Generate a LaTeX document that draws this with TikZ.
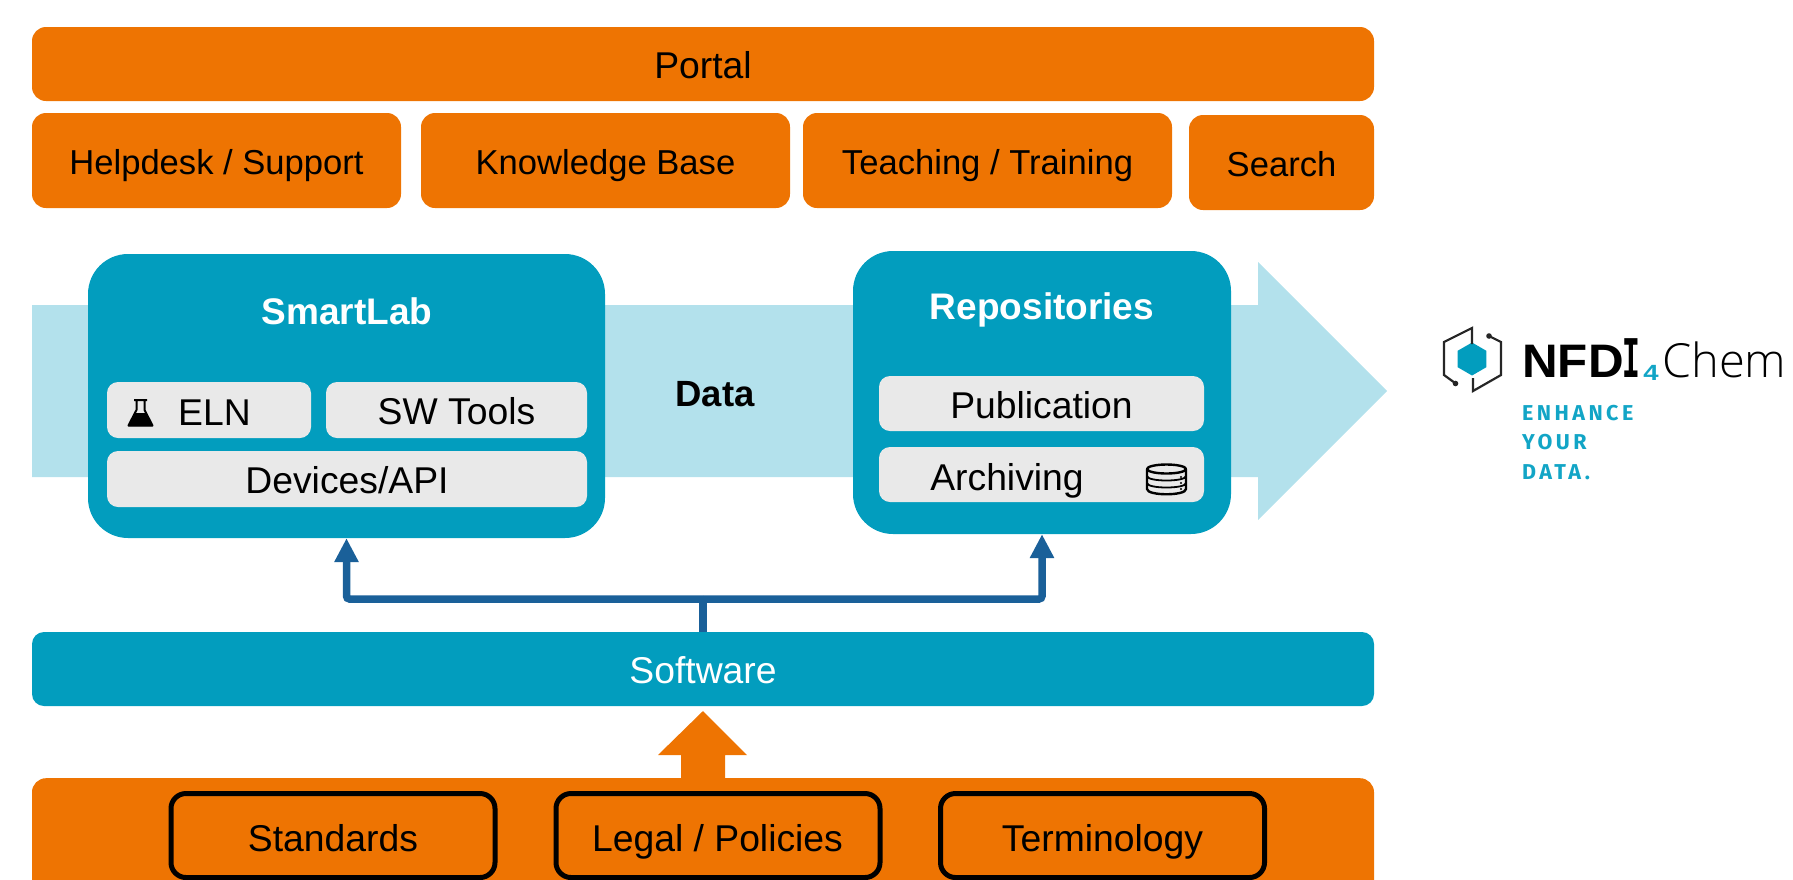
\documentclass[tikz,border=0pt]{standalone}
\usepackage{fontspec}
\setmainfont{Liberation Sans}
\newfontfamily\platemono{Liberation Mono}[BoldFont={* Bold}]
\newfontfamily\chemfont{Open Sans Light}
\newfontfamily\tagfont{Fira Sans}[LetterSpace=16.0]
\usetikzlibrary{arrows.meta,shapes.geometric}
\definecolor{nfdiorange}{HTML}{EE7402}
\definecolor{nfditeal}{HTML}{029DBE}
\definecolor{nfdilight}{HTML}{B3E1EC}
\definecolor{nfdigray}{HTML}{E9E9E9}
\definecolor{nfdiblue}{HTML}{1A6099}
\definecolor{logoteal}{HTML}{12A5C6}
\tikzset{
  lab/.style={font=\fontsize{37.3}{40}\selectfont,text height=29.5pt,text depth=0pt,inner sep=0pt},
  obox/.style={lab,fill=nfdiorange,draw=none,rounded corners=14pt,text=black},
  rowbox/.style={obox,font=\fontsize{34.6}{40}\selectfont,text height=28pt},
  tbox/.style={lab,fill=nfditeal,draw=none,rounded corners=12pt,text=white},
  bigbox/.style={fill=nfditeal,draw=none,rounded corners=40pt,inner sep=0pt},
  gbox/.style={lab,fill=nfdigray,draw=none,rounded corners=11pt,text=black},
  blackbox/.style={lab,draw=black,line width=5pt,rounded corners=15pt,text=black},
  title/.style={lab,font=\fontsize{37}{40}\selectfont\bfseries,text=white},
  conn/.style={draw=nfdiblue,line width=7.5pt,rounded corners=3pt},
  tip/.style={-{Triangle[width=23pt,length=24pt]}},
  icon/.style={draw=black,line width=2.4pt,line join=round},
  logoline/.style={draw=black!85,line width=2.2pt,line join=miter},
  tag/.style={inner sep=0pt,anchor=base west,text=logoteal,font=\fontsize{21.5}{24}\selectfont\tagfont\bfseries},
}
\begin{document}
\begin{tikzpicture}[x=1pt,y=-1pt]
\useasboundingbox (0,0) rectangle (1793,879);
\clip (0,0) rectangle (1793,879);
% Big data arrow
\fill[nfdilight] (32,305) -- (1258,305) -- (1258,262) -- (1387,391) -- (1258,520) -- (1258,477) -- (32,477) -- cycle;
\node[lab,font=\fontsize{36.5}{40}\selectfont\bfseries] (data) at (715,391.5) {Data};
% Top
\node[obox,minimum width=1342pt,minimum height=74pt] (portal) at (703,64) {Portal};
\node[rowbox,minimum width=369pt,minimum height=95pt] (help) at (216.5,160.5) {Helpdesk / Support};
\node[rowbox,minimum width=369pt,minimum height=95pt] (know) at (605.5,160.5) {Knowledge Base};
\node[rowbox,minimum width=369pt,minimum height=95pt] (teach) at (987.5,160.5) {Teaching / Training};
\node[rowbox,minimum width=185pt,minimum height=95pt] (search) at (1281.5,162.5) {Search};
% SmartLab
\node[bigbox,minimum width=517pt,minimum height=284pt] (smart) at (346.5,396) {};
\node[title] (smarttitle) at (347,309.5) {SmartLab};
\node[gbox,minimum width=204pt,minimum height=56pt] (elnbox) at (209,410) {};
\node[lab] (eln) at (214.5,411) {ELN};
\node[gbox,minimum width=261pt,minimum height=56pt] (sw) at (456.5,410) {SW Tools};
\node[gbox,minimum width=480pt,minimum height=56pt] (dev) at (347,479) {Devices/API};
% flask
\fill[black] (128,426) -- (135,413) -- (146,413) -- (153,426) -- cycle;
\draw[black,line width=2pt,line join=round] (134,400) -- (147,400) (136.5,400) -- (136.5,410) -- (128.5,425.5) -- (152.5,425.5) -- (144.5,410) -- (144.5,400);
% Repositories
\node[bigbox,minimum width=378pt,minimum height=283pt] (repo) at (1042,392.5) {};
\node[title] (repotitle) at (1042,304.5) {Repositories};
\node[gbox,minimum width=325pt,minimum height=55pt] (pub) at (1041.5,403.5) {Publication};
\node[gbox,minimum width=325pt,minimum height=55pt] (archbox) at (1041.5,474.5) {};
\node[lab] (arch) at (1007,475.5) {Archiving};
% database
\draw[icon,fill=nfdigray] (1147,469) -- (1147,489) .. controls (1147,496) and (1186,496) .. (1186,489) -- (1186,469);
\draw[icon,fill=nfdigray] (1166.5,469) ellipse [x radius=19.5pt,y radius=4.5pt];
\draw[icon,line width=1.8pt] (1147,476) .. controls (1147,482) and (1186,482) .. (1186,476);
\draw[icon,line width=1.8pt] (1147,483) .. controls (1147,489) and (1186,489) .. (1186,483);
\fill (1181,477) circle (1.2pt) (1181,483) circle (1.2pt) (1181,489) circle (1.2pt);
% Software
\node[tbox,minimum width=1342pt,minimum height=74pt] (soft) at (703,669) {Software};
% Connectors
\coordinate (bus) at (703,599);
\draw[conn] (soft.north) -- (bus);
\draw[conn,tip] (bus) -| (smart.south);
\draw[conn,tip] (bus) -| (repo.south);
% Bottom band
\node[obox,minimum width=1342pt,minimum height=160pt,anchor=north] (band) at (703,778) {};
\fill[nfdiorange] (681,780) -- (681,755) -- (658,755) -- (703,711) -- (747,755) -- (725,755) -- (725,780) -- cycle;
\node[blackbox,minimum width=324pt,minimum height=84pt] (std) at (333,835.5) {};
\node[lab] (stdt) at (333,836.5) {Standards};
\node[blackbox,minimum width=324pt,minimum height=84pt] (legal) at (718,835.5) {};
\node[lab] (legalt) at (717.5,836.5) {Legal / Policies};
\node[blackbox,minimum width=324pt,minimum height=84pt] (term) at (1102.5,835.5) {};
\node[lab] (termt) at (1102.5,836.5) {Terminology};
% Logo
\node[regular polygon,regular polygon sides=6,fill=nfditeal,inner sep=0pt,minimum size=33pt,shape border rotate=30] (hex) at (1472,359) {};
\draw[logoline] (1472,344) -- (1472,328) -- (1444,342) -- (1444,375) -- (1455,383);
\fill[black!85] (1455.5,383.5) circle (2.8pt);
\draw[logoline] (1489,336) -- (1501,342) -- (1501,375) -- (1473,391) -- (1473,378);
\fill[black!85] (1489,336) circle (2.8pt);
\node[inner sep=0pt,anchor=base west,xscale=1.05,font=\fontsize{47}{50}\selectfont\bfseries] (nfd) at (1522,377) {NFD};
\node[inner sep=0pt,anchor=base east,xscale=.5,font=\fontsize{59}{50}\selectfont\platemono\bfseries] (inf) at (1640,377) {I};
\node[inner sep=0pt,anchor=base west,xscale=1.25,text=logoteal,font=\fontsize{22}{24}\selectfont\bfseries] (four) at (1643,380) {4};
\node[inner sep=0pt,anchor=base west,font=\fontsize{47}{50}\selectfont\chemfont] (chem) at (1662,377) {Chem};
\node[tag] (t1) at (1522,420) {ENHANCE};
\node[tag] (t2) at (1522,449) {YOUR};
\node[tag] (t3) at (1522,479) {DATA.};
\end{tikzpicture}
\end{document}
